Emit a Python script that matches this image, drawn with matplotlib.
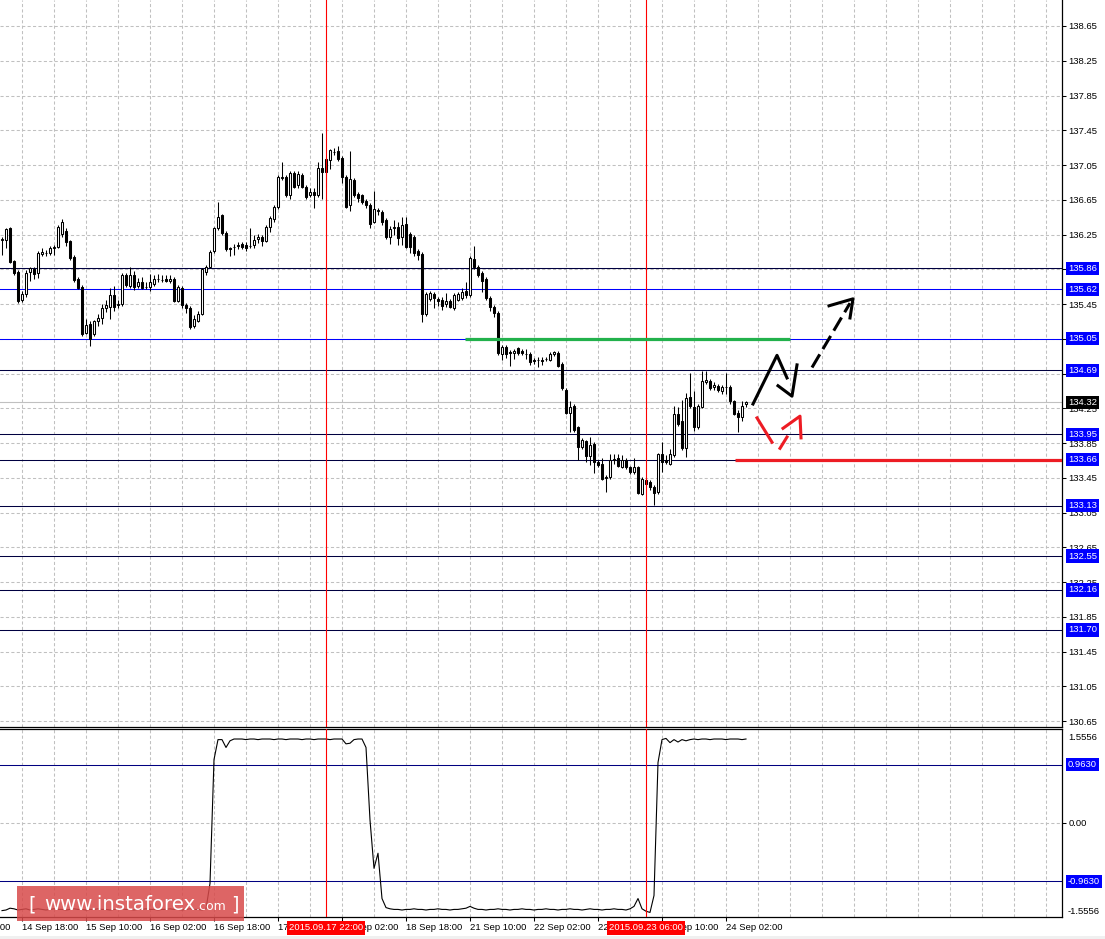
import matplotlib
matplotlib.use('Agg')
import matplotlib.pyplot as plt
from matplotlib.transforms import blended_transform_factory
from matplotlib.patches import Rectangle

plt.rcParams['font.family'] = ['Liberation Sans', 'DejaVu Sans']

# ---------------- data (H1 bars, bar index 0 = 14 Sep 18:00) ----------------
first_bar = -5
opens = [136.19,136.19,136.32,135.94,135.82,135.50,135.57,135.82,135.85,135.81,
         136.03,136.04,136.04,136.09,136.11,136.26,136.29,136.17,135.99,135.74,
         135.65,135.12,135.22,135.10,135.25,135.29,135.41,135.42,135.55,135.44,
         135.45,135.78,135.66,135.79,135.66,135.70,135.65,135.65,135.68,135.74,
         135.73,135.74,135.71,135.74,135.49,135.64,135.44,135.41,135.20,135.26,
         135.34,135.82,135.88,136.06,136.33,136.47,136.27,136.09,136.11,136.12,
         136.14,136.13,136.12,136.13,136.20,136.22,136.18,136.34,136.43,136.57,
         136.90,136.91,136.70,136.96,136.82,136.94,136.80,136.70,136.74,136.71,
         137.02,136.97,137.11,137.20,137.21,137.13,136.91,136.59,136.88,136.72,
         136.70,136.64,136.59,136.40,136.52,136.51,136.42,136.22,136.32,136.34,
         136.22,136.37,136.26,136.22,136.06,136.03,135.34,135.51,135.57,135.51,
         135.50,135.45,135.49,135.40,135.50,135.52,135.60,135.56,135.97,135.88,
         135.81,135.74,135.52,135.42,135.35,134.88,134.96,134.90,134.89,134.94,
         134.91,134.88,134.88,134.81,134.81,134.81,134.82,134.81,134.87,134.89,
         134.76,134.46,134.20,134.28,134.03,133.81,133.87,133.70,133.84,133.63,
         133.61,133.46,133.46,133.65,133.68,133.58,133.66,133.57,133.52,133.57,
         133.27,133.43,133.40,133.35,133.29,133.72,133.66,133.61,133.71,134.18,
         134.10,133.79,134.38,134.27,134.03,134.27,134.55,134.57,134.49,134.51,
         134.45,134.49,134.50,134.33,134.20,134.15,134.30]
highs = [136.22,136.33,136.34,135.96,135.84,135.60,135.84,135.88,135.88,136.06,
         136.10,136.07,136.12,136.13,136.36,136.43,136.33,136.19,136.02,135.76,
         135.67,135.28,135.26,135.27,135.33,135.45,135.50,135.63,135.66,135.50,
         135.81,135.81,135.88,135.83,135.75,135.76,135.70,135.80,135.79,135.80,
         135.78,135.78,135.78,135.76,135.67,135.66,135.46,135.43,135.32,135.37,
         135.87,135.90,136.07,136.34,136.62,136.49,136.29,136.11,136.14,136.16,
         136.16,136.16,136.33,136.24,136.26,136.25,136.36,136.46,136.59,136.93,
         137.08,136.93,136.98,136.98,136.98,136.96,136.82,136.78,136.78,137.08,
         137.42,137.14,137.24,137.25,137.27,137.15,136.93,137.21,136.90,136.74,
         136.72,136.66,136.61,136.75,136.55,136.53,136.44,136.35,136.42,136.40,
         136.45,136.45,136.28,136.24,136.08,136.05,135.59,135.60,135.59,135.53,
         135.53,135.58,135.51,135.58,135.59,135.63,135.70,136.00,136.12,135.90,
         135.83,135.76,135.54,135.44,135.37,134.98,134.98,134.92,134.93,134.96,
         134.93,134.93,134.90,134.83,134.84,134.84,134.84,134.90,134.91,134.91,
         134.78,134.48,134.33,134.30,134.05,133.91,133.89,133.92,133.86,133.65,
         133.68,133.48,133.72,133.72,133.72,133.71,133.68,133.59,133.68,133.59,
         133.46,133.45,133.42,133.37,133.74,133.86,133.71,133.78,134.28,134.27,
         134.35,134.43,134.66,134.45,134.30,134.68,134.68,134.59,134.55,134.53,
         134.52,134.66,134.52,134.35,134.23,134.33,134.33]
lows = [136.02,136.10,135.92,135.78,135.46,135.47,135.53,135.72,135.74,135.75,
        136.00,136.00,136.01,136.02,136.09,136.22,136.12,135.96,135.70,135.62,
        135.08,135.10,134.97,135.08,135.20,135.22,135.36,135.28,135.37,135.40,
        135.43,135.65,135.63,135.61,135.64,135.62,135.62,135.60,135.66,135.70,
        135.70,135.70,135.69,135.47,135.47,135.40,135.35,135.16,135.18,135.24,
        135.32,135.78,135.86,136.04,136.30,136.24,136.06,136.00,136.02,136.08,
        136.08,136.06,136.09,136.10,136.15,136.12,136.16,136.28,136.40,136.54,
        136.88,136.68,136.66,136.78,136.79,136.78,136.66,136.68,136.55,136.68,
        136.66,136.80,137.00,137.16,137.10,136.84,136.55,136.52,136.68,136.62,
        136.60,136.56,136.32,136.38,136.47,136.36,136.20,136.14,136.24,136.13,
        136.13,136.10,136.04,136.00,135.96,135.24,135.31,135.49,135.40,135.43,
        135.38,135.42,135.40,135.38,135.48,135.50,135.52,135.53,135.85,135.76,
        135.59,135.50,135.37,135.30,134.86,134.81,134.83,134.74,134.82,134.86,
        134.86,134.82,134.75,134.76,134.73,134.75,134.79,134.79,134.85,134.73,
        134.46,134.18,133.98,133.98,133.65,133.78,133.63,133.60,133.51,133.58,
        133.42,133.29,133.44,133.61,133.57,133.56,133.55,133.49,133.50,133.26,
        133.25,133.35,133.31,133.14,133.27,133.52,133.61,133.60,133.69,134.05,
        133.77,133.69,134.25,133.99,134.01,134.25,134.53,134.46,134.46,134.44,
        134.41,134.42,134.30,134.17,133.98,134.10,134.26]
closes = [136.20,136.31,135.93,135.81,135.49,135.57,135.81,135.86,135.80,136.04,
          136.05,136.04,136.10,136.11,136.34,136.39,136.16,135.98,135.73,135.64,
          135.10,135.21,135.05,135.25,135.29,135.40,135.44,135.56,135.42,135.45,
          135.79,135.67,135.78,135.65,135.70,135.64,135.65,135.70,135.74,135.74,
          135.73,135.71,135.74,135.49,135.65,135.44,135.41,135.19,135.28,135.34,
          135.85,135.88,136.05,136.32,136.45,136.27,136.08,136.08,136.11,136.13,
          136.11,136.10,136.12,136.19,136.22,136.18,136.34,136.44,136.57,136.91,
          136.91,136.71,136.96,136.80,136.95,136.80,136.68,136.74,136.70,137.01,
          136.97,137.12,137.22,137.20,137.12,136.91,136.57,136.89,136.71,136.67,
          136.63,136.59,136.37,136.54,136.53,136.40,136.22,136.31,136.34,136.21,
          136.36,136.11,136.11,136.04,136.02,135.34,135.57,135.58,135.52,135.48,
          135.43,135.48,135.42,135.56,135.57,135.59,135.55,135.98,135.88,135.79,
          135.72,135.52,135.42,135.35,134.89,134.96,134.88,134.89,134.91,134.89,
          134.89,134.88,134.78,134.79,134.81,134.80,134.82,134.88,134.90,134.74,
          134.48,134.20,134.27,134.00,133.81,133.88,133.70,133.83,133.63,133.60,
          133.44,133.45,133.66,133.67,133.59,133.65,133.57,133.52,133.57,133.28,
          133.44,133.38,133.34,133.28,133.72,133.63,133.63,133.72,134.19,134.07,
          133.79,134.37,134.28,134.04,134.28,134.56,134.58,134.48,134.52,134.46,
          134.49,134.50,134.33,134.19,134.15,134.28,134.32]
indicator = [-1.45,-1.44,-1.41,-1.42,-1.44,-1.43,-1.42,-1.44,-1.43,-1.42,
             -1.43,-1.44,-1.43,-1.42,-1.43,-1.43,-1.44,-1.43,-1.42,-1.43,
             -1.43,-1.44,-1.43,-1.43,-1.42,-1.43,-1.43,-1.44,-1.43,-1.43,
             -1.42,-1.43,-1.43,-1.44,-1.43,-1.43,-1.42,-1.43,-1.43,-1.44,
             -1.43,-1.43,-1.42,-1.43,-1.43,-1.44,-1.43,-1.42,-1.43,-1.43,
             -1.44,-1.42,-1.00,1.05,1.38,1.38,1.25,1.36,1.39,1.39,
             1.39,1.38,1.39,1.39,1.38,1.39,1.39,1.39,1.38,1.39,
             1.39,1.38,1.39,1.39,1.39,1.38,1.39,1.39,1.38,1.39,
             1.39,1.39,1.38,1.39,1.39,1.39,1.31,1.32,1.38,1.39,
             1.39,1.25,0.05,-0.75,-0.50,-1.25,-1.40,-1.42,-1.43,-1.43,
             -1.44,-1.43,-1.43,-1.42,-1.43,-1.43,-1.44,-1.43,-1.43,-1.42,
             -1.43,-1.43,-1.44,-1.43,-1.43,-1.42,-1.41,-1.38,-1.41,-1.43,
             -1.43,-1.44,-1.43,-1.43,-1.42,-1.43,-1.43,-1.44,-1.43,-1.43,
             -1.42,-1.43,-1.43,-1.44,-1.43,-1.43,-1.42,-1.43,-1.43,-1.44,
             -1.43,-1.43,-1.42,-1.43,-1.43,-1.44,-1.43,-1.42,-1.43,-1.43,
             -1.44,-1.43,-1.43,-1.42,-1.43,-1.43,-1.44,-1.42,-1.38,-1.25,
             -1.42,-1.46,-1.48,-1.20,1.00,1.38,1.40,1.33,1.38,1.34,
             1.38,1.36,1.38,1.39,1.38,1.39,1.39,1.38,1.39,1.39,
             1.39,1.38,1.39,1.39,1.39,1.38,1.39]

price_ticks = [130.65,131.05,131.45,131.85,132.25,132.65,133.05,133.45,133.85,134.25,
               134.65,135.05,135.45,135.85,136.25,136.65,137.05,137.45,137.85,138.25,138.65]
time_tick_bars = [-16, 0, 16, 32, 48, 64, 80, 96, 112, 128, 144, 160, 176]
time_tick_labels = ['14 Sep 02:00', '14 Sep 18:00', '15 Sep 10:00', '16 Sep 02:00',
                    '16 Sep 18:00', '17 Sep 10:00', '18 Sep 02:00', '18 Sep 18:00',
                    '21 Sep 10:00', '22 Sep 02:00', '22 Sep 18:00', '23 Sep 10:00',
                    '24 Sep 02:00']
marked_bars = [76, 156]
marked_labels = ['2015.09.17 22:00', '2015.09.23 06:00']
levels_dark = [135.86, 134.69, 133.95, 133.66, 133.13, 132.55, 132.16, 131.70]
levels_blue = [135.62, 135.05]
last_price = 134.32
osc_levels = [0.9630, -0.9630]
osc_limit = 1.5556

# ---------------- figure ----------------
W, H = 1105, 939
fig = plt.figure(figsize=(W / 100, H / 100), dpi=100)
fig.patch.set_facecolor('white')

def fy(py):
    return 1 - py / H

ax = fig.add_axes([0, fy(727), 1062 / W, 727 / H])
ax2 = fig.add_axes([0, fy(917), 1062 / W, (917 - 729) / H])

XMIN, XMAX = -5.5, 260
YMIN, YMAX = 130.583, 138.949

GRID = '#c0c0c0'
dash = (0, (3, 2.2))
for a in (ax, ax2):
    for gx in range(0, 260, 8):
        a.axvline(gx, color=GRID, lw=0.75, ls=dash, zorder=0)
for t in price_ticks:
    ax.axhline(t, color=GRID, lw=0.75, ls=dash, zorder=0)
ax2.axhline(0, color=GRID, lw=0.75, ls=dash, zorder=0)

# levels
ax.axhline(last_price, color='#c0c0c0', lw=0.8, zorder=1)
for lv in levels_dark:
    ax.axhline(lv, color='#000040', lw=0.75, zorder=2)
for lv in levels_blue:
    ax.axhline(lv, color='#0000ff', lw=0.75, zorder=2)
for lv in osc_levels:
    ax2.axhline(lv, color='#000080', lw=0.75, zorder=2)

# candles
idx = list(range(first_bar, first_bar + len(opens)))
ax.vlines(idx, lows, highs, color='black', lw=0.75, zorder=3)
bottoms = [min(o, c) for o, c in zip(opens, closes)]
heights = [abs(c - o) for o, c in zip(opens, closes)]
faces = ['white' if c >= o else 'black' for o, c in zip(opens, closes)]
ax.bar(idx, heights, width=0.6, bottom=bottoms, color=faces,
       edgecolor='black', linewidth=0.75, zorder=4)

# oscillator
ax2.plot(idx, indicator, color='black', lw=0.8, zorder=3)

# red vertical markers
for mb in marked_bars:
    ax.axvline(mb, color='#ff0000', lw=0.8, zorder=5)
    ax2.axvline(mb, color='#ff0000', lw=0.8, zorder=5)

# hand-drawn annotations (bar index / price)
ax.plot([110.75, 192], [135.05, 135.05], color='#22b14c', lw=2.3, zorder=6, solid_capstyle='butt')
ax.plot([178.25, 260], [133.66, 133.66], color='#ed1c24', lw=2.3, zorder=6, solid_capstyle='butt')
ax.plot([182.75, 188.75, 191.25], [134.30, 134.86, 134.60], color='black', lw=2.2, zorder=6)
ax.plot([189.0, 192.5, 193.75], [134.51, 134.39, 134.75], color='black', lw=2.2, zorder=6)
ax.plot([197.5, 207.0], [134.72, 135.46], color='black', lw=2.2, zorder=6, ls=(0, (5, 2)))
ax.plot([201.75, 207.75, 207.0], [135.43, 135.51, 135.29], color='black', lw=2.2, zorder=6)
ax.plot([183.75, 187.5], [134.14, 133.86], color='#ed1c24', lw=2.2, zorder=6)
ax.plot([189.5, 191.25], [133.79, 133.92], color='#ed1c24', lw=2.2, zorder=6)
ax.plot([190.25, 194.5, 194.75], [134.02, 134.16, 133.91], color='#ed1c24', lw=2.2, zorder=6)

# axes styling
FS = 6.8
for a in (ax, ax2):
    a.yaxis.tick_right()
    a.tick_params(axis='y', direction='out', length=3, width=0.75, pad=1.5,
                  labelsize=FS, colors='black')
    a.spines['left'].set_visible(False)
    for s in ('right', 'bottom', 'top'):
        a.spines[s].set_linewidth(0.9)
ax.spines['top'].set_visible(False)
ax.set_xticks([])
ax.set_yticks(price_ticks)
ax.set_yticklabels([f'{t:.2f}' for t in price_ticks])

ax2.set_yticks([0])
ax2.set_yticklabels(['0.00'])
ax2.set_xticks(time_tick_bars[1:])
ax2.set_xticklabels(time_tick_labels[1:], ha='left')
ax2.tick_params(axis='x', direction='out', length=3, width=0.75, pad=1.5, labelsize=FS)

# limits set after the ticks so that they are not widened
ax.set_xlim(XMIN, XMAX)
ax.set_ylim(YMIN, YMAX)
ax2.set_xlim(XMIN, XMAX)
ax2.set_ylim(-osc_limit, osc_limit)

transx = blended_transform_factory(ax2.transData, ax2.transAxes)
# first label lies mostly left of the canvas, as in the terminal
ax2.text(time_tick_bars[0] - 1.0, -11 / 188, time_tick_labels[0], transform=transx,
         ha='left', va='center', fontsize=FS, clip_on=False)

# right-axis label boxes
trans = blended_transform_factory(ax.transAxes, ax.transData)
for lv in levels_dark + levels_blue:
    ax.text(1 + 6 / 1062, lv, f'{lv:.2f}', transform=trans, ha='left', va='center',
            fontsize=FS, color='white', zorder=10, clip_on=False,
            bbox=dict(boxstyle='square,pad=0.22', fc='#0000ff', ec='none'))
ax.text(1 + 6 / 1062, last_price, f'{last_price:.2f}', transform=trans, ha='left',
        va='center', fontsize=FS, color='white', zorder=10, clip_on=False,
        bbox=dict(boxstyle='square,pad=0.22', fc='black', ec='none'))

trans2 = blended_transform_factory(ax2.transAxes, ax2.transData)
for lv in osc_levels:
    ax2.text(1 + 6 / 1062, lv, f'{lv:.4f}', transform=trans2, ha='left', va='center',
             fontsize=FS, color='white', zorder=10, clip_on=False,
             bbox=dict(boxstyle='square,pad=0.22', fc='#0000ff', ec='none'))
ax2.text(1 + 6 / 1062, (917 - 737) / 188, f'{osc_limit:.4f}', transform=ax2.transAxes,
         ha='left', va='center', fontsize=FS, color='black', clip_on=False)
ax2.text(1 + 6 / 1062, (917 - 912) / 188, f'{-osc_limit:.4f}', transform=ax2.transAxes,
         ha='left', va='center', fontsize=FS, color='black', clip_on=False)

# red date boxes on the time axis
for mb, lab in zip(marked_bars, marked_labels):
    ax2.text(mb, -11 / 188, lab, transform=transx, ha='center', va='center',
             fontsize=FS, color='white', zorder=10, clip_on=False,
             bbox=dict(boxstyle='square,pad=0.25', fc='#ff0000', ec='none'))

# watermark
fig.add_artist(Rectangle((17 / W, fy(921)), 227 / W, 35 / H, transform=fig.transFigure,
                         fc='#d84a4a', ec='none', alpha=0.85, zorder=20))
wm = dict(color='white', va='center', family='DejaVu Sans', zorder=21)
fig.text(28 / W, fy(905), '[', fontsize=14, **wm)
fig.text(44 / W, fy(904), 'www.instaforex', fontsize=14.2, **wm)
fig.text(196 / W, fy(907), '.com', fontsize=9, **wm)
fig.text(231 / W, fy(905), ']', fontsize=14, **wm)

fig.add_artist(Rectangle((0, 0), 1, 3 / H, transform=fig.transFigure, fc='#f0f0f0', ec='none'))

fig.savefig('out.png', dpi=100)
